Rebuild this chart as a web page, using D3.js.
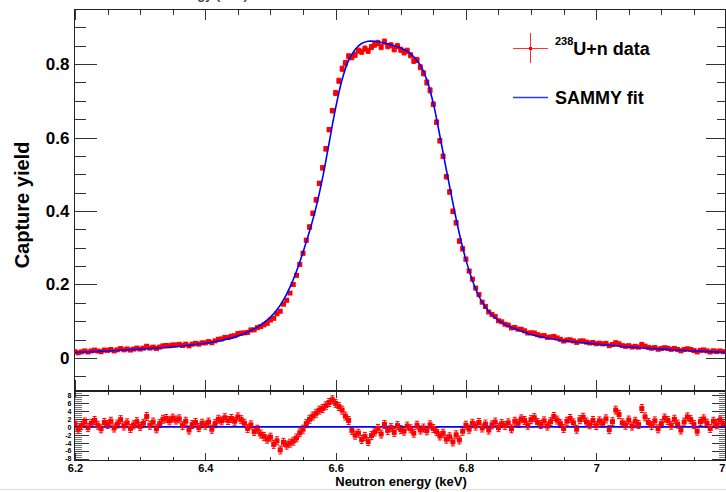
<!DOCTYPE html>
<html>
<head>
<meta charset="utf-8">
<script src="https://cdn.jsdelivr.net/npm/d3@7"></script>
<style>
  body { margin: 0; background: #fff; }
  svg { display: block; font-family: "Liberation Sans", Arial, sans-serif; font-weight: bold; }
</style>
</head>
<body>
<svg id="chart" width="726" height="492"></svg>
<script>
// neutron energy of each data point (keV)
const energies = [
  6.200,6.205,6.210,6.215,6.220,6.225,6.230,6.235,6.240,6.245,
  6.250,6.255,6.260,6.265,6.270,6.275,6.280,6.285,6.290,6.295,
  6.300,6.305,6.310,6.315,6.320,6.325,6.330,6.335,6.340,6.345,
  6.350,6.355,6.360,6.365,6.370,6.375,6.380,6.385,6.390,6.395,
  6.400,6.405,6.410,6.415,6.420,6.425,6.430,6.435,6.440,6.445,
  6.450,6.455,6.460,6.465,6.470,6.475,6.480,6.485,6.490,6.495,
  6.500,6.505,6.510,6.515,6.520,6.525,6.530,6.535,6.540,6.545,
  6.550,6.555,6.560,6.565,6.570,6.575,6.580,6.585,6.590,6.595,
  6.600,6.605,6.610,6.615,6.620,6.625,6.630,6.635,6.640,6.645,
  6.650,6.655,6.660,6.665,6.670,6.675,6.680,6.685,6.690,6.695,
  6.700,6.705,6.710,6.715,6.720,6.725,6.730,6.735,6.740,6.745,
  6.750,6.755,6.760,6.765,6.770,6.775,6.780,6.785,6.790,6.795,
  6.800,6.805,6.810,6.815,6.820,6.825,6.830,6.835,6.840,6.845,
  6.850,6.855,6.860,6.865,6.870,6.875,6.880,6.885,6.890,6.895,
  6.900,6.905,6.910,6.915,6.920,6.925,6.930,6.935,6.940,6.945,
  6.950,6.955,6.960,6.965,6.970,6.975,6.980,6.985,6.990,6.995,
  7.000,7.005,7.010,7.015,7.020,7.025,7.030,7.035,7.040,7.045,
  7.050,7.055,7.060,7.065,7.070,7.075,7.080,7.085,7.090,7.095,
  7.100,7.105,7.110,7.115,7.120,7.125,7.130,7.135,7.140,7.145,
  7.150,7.155,7.160,7.165,7.170,7.175,7.180,7.185,7.190,7.195
];

// measured capture yield
const yields = [
  0.0170,0.0139,0.0166,0.0192,0.0161,0.0192,0.0214,0.0188,0.0170,0.0214,
  0.0205,0.0230,0.0192,0.0222,0.0255,0.0220,0.0245,0.0215,0.0242,0.0268,
  0.0242,0.0268,0.0317,0.0268,0.0294,0.0258,0.0296,0.0330,0.0340,0.0332,
  0.0355,0.0352,0.0370,0.0338,0.0375,0.0330,0.0375,0.0398,0.0375,0.0412,
  0.0410,0.0445,0.0415,0.0465,0.0508,0.0518,0.0558,0.0560,0.0593,0.0605,
  0.0663,0.0675,0.0683,0.0695,0.0763,0.0765,0.0825,0.0855,0.0900,0.0942,
  0.1032,0.1078,0.1205,0.1271,0.1463,0.1571,0.1766,0.2001,0.2248,0.2545,
  0.2850,0.3205,0.3564,0.3937,0.4304,0.4752,0.5176,0.5693,0.6216,0.6733,
  0.7213,0.7547,0.7874,0.8029,0.8212,0.8187,0.8253,0.8368,0.8336,0.8422,
  0.8361,0.8466,0.8529,0.8577,0.8464,0.8612,0.8487,0.8511,0.8402,0.8491,
  0.8391,0.8318,0.8364,0.8240,0.8088,0.8113,0.7914,0.7749,0.7500,0.7285,
  0.6906,0.6418,0.5912,0.5489,0.4934,0.4520,0.3992,0.3680,0.3182,0.2970,
  0.2690,0.2366,0.2146,0.1903,0.1724,0.1518,0.1401,0.1251,0.1185,0.1131,
  0.1014,0.0985,0.0918,0.0895,0.0818,0.0830,0.0783,0.0780,0.0740,0.0680,
  0.0685,0.0680,0.0634,0.0604,0.0610,0.0560,0.0571,0.0586,0.0547,0.0507,
  0.0460,0.0489,0.0494,0.0463,0.0422,0.0461,0.0464,0.0431,0.0408,0.0421,
  0.0386,0.0402,0.0382,0.0396,0.0334,0.0366,0.0416,0.0386,0.0336,0.0316,
  0.0334,0.0298,0.0316,0.0294,0.0368,0.0320,0.0286,0.0264,0.0282,0.0236,
  0.0256,0.0279,0.0262,0.0233,0.0258,0.0229,0.0194,0.0229,0.0250,0.0231,
  0.0202,0.0164,0.0208,0.0218,0.0192,0.0162,0.0194,0.0172,0.0192,0.0170
];

// yield uncertainty, in units of 1e-3
const yieldErr = [
  2.5,2.5,2.5,2.5,2.5,2.5,2.5,2.5,2.5,2.5,
  2.5,2.5,2.5,2.5,2.5,2.5,2.5,2.5,2.5,2.5,
  2.5,2.5,2.5,2.5,2.5,2.5,2.5,2.5,2.5,2.5,
  2.5,2.5,2.5,2.5,2.5,2.5,2.5,2.5,2.5,2.5,
  2.5,2.5,2.5,2.5,2.5,2.5,2.5,2.5,2.5,2.5,
  2.5,2.5,2.5,2.5,2.5,2.5,2.5,2.5,2.5,3,
  3,3,3,3,3,4,4,4,4,5,
  5,5,6,6,6,6,6,6,6,6,
  7,7,7,7,7,7,7,7,7,7,
  7,7,7,7,7,7,7,7,7,7,
  7,7,7,7,7,7,7,7,7,7,
  6,6,6,6,6,6,6,6,6,5,
  5,4,4,4,4,4,3,3,3,3,
  3,2.5,2.5,2.5,2.5,2.5,2.5,2.5,2.5,2.5,
  2.5,2.5,2.5,2.5,2.5,2.5,2.5,2.5,2.5,2.5,
  2.5,2,2,2,2,2,2,2,2,2,
  2,2,2,2,2,2,2,2,2,2,
  2,2,2,2,2,2,2,2,2,2,
  2,2,2,2,2,2,2,2,2,2,
  2,2,2,2,2,2,2,2,2,2
];

// normalised residuals (data - fit) / sigma
const residuals = [
  0.8,-0.6,0.3,1.2,-0.2,0.9,1.6,0.4,-0.5,1.1,
  0.6,1.4,-0.3,0.7,1.8,0.2,1.0,-0.4,0.5,1.3,
  0.1,0.9,2.6,0.4,1.2,-0.5,0.8,1.9,2.1,1.5,
  2.2,1.7,2.0,0.3,1.4,-0.8,0.6,1.1,-0.2,0.9,
  0.4,1.2,-0.6,0.8,1.9,1.5,2.3,1.6,2.1,1.4,
  2.5,1.8,0.9,-0.4,0.5,-1.2,-0.6,-1.8,-2.4,-3.1,
  -2.6,-4.4,-3.5,-5.8,-3.9,-4.6,-4.1,-3.6,-2.8,-1.5,
  -0.6,0.8,1.9,2.7,3.4,4.2,4.6,5.3,6.1,6.8,
  5.9,5.1,4.2,2.7,1.6,-0.9,-2.1,-1.6,-3.2,-2.4,
  -3.7,-2.2,-1.3,-0.4,-1.8,0.6,-0.9,-0.2,-1.4,0.3,
  -0.7,-1.1,0.2,-0.5,-1.6,0.4,-0.8,-0.3,-1.0,0.5,
  -0.4,-1.2,-2.3,-1.6,-3.1,-2.5,-3.8,-2.0,-3.3,-1.1,
  0.4,-0.6,0.9,0.2,1.1,-0.3,0.7,-0.8,0.5,1.2,
  -0.2,0.8,0.3,1.0,-0.5,1.4,0.9,2.0,1.6,0.4,
  1.8,2.3,1.1,0.6,1.5,0.2,1.3,2.6,1.7,0.8,
  -0.4,1.4,2.1,1.0,-0.6,1.8,2.4,1.2,0.5,1.6,
  0.3,1.5,0.9,2.0,-0.7,1.3,4.2,3.1,1.0,0.4,
  1.7,0.2,1.4,0.6,4.6,2.5,1.1,0.3,1.5,-0.5,
  0.8,2.2,1.6,0.4,1.9,0.7,-0.8,1.2,2.5,1.8,
  0.6,-1.1,1.3,2.0,0.9,-0.4,1.4,0.5,1.7,0.8
];

// SAMMY fit curve
const fitEnergies = [
  6.20,6.25,6.30,6.35,6.40,6.42,6.44,6.46,6.48,6.49,
  6.50,6.51,6.52,6.53,6.54,6.55,6.56,6.57,6.58,6.59,
  6.60,6.61,6.62,6.63,6.64,6.65,6.66,6.67,6.68,6.69,
  6.70,6.71,6.72,6.73,6.74,6.75,6.76,6.77,6.78,6.79,
  6.80,6.81,6.82,6.83,6.84,6.85,6.86,6.87,6.88,6.90,
  6.95,7.00,7.05,7.10,7.15,7.20
];
const fitYields = [
  0.015,0.019,0.024,0.030,0.040,0.046,0.054,0.066,0.084,0.096,
  0.111,0.131,0.158,0.193,0.236,0.288,0.345,0.410,0.490,0.585,
  0.680,0.758,0.810,0.840,0.856,0.862,0.862,0.859,0.855,0.850,
  0.844,0.835,0.820,0.797,0.757,0.693,0.605,0.512,0.422,0.338,
  0.267,0.211,0.168,0.138,0.117,0.102,0.091,0.083,0.076,0.064,
  0.047,0.038,0.030,0.024,0.019,0.015
];

const xTicks = [6.2, 6.4, 6.6, 6.8, 7, 7.2];
const yTicks = [0, 0.2, 0.4, 0.6, 0.8];
const resTicks = [-8, -6, -4, -2, 0, 2, 4, 6, 8];

const svg = d3.select("#chart");

const x = d3.scaleLinear().domain([6.2, 7.2]).range([75, 726.5]);
const y = d3.scaleLinear().domain([-0.09, 0.95]).range([391, 9]);
const yr = d3.scaleLinear().domain([-8.33, 9]).range([460, 391]);

const xLeft = 74.5, xRight = 725.5;
const xMinor = d3.range(6.2, 7.2001, 0.05).map(v => +v.toFixed(2));
const yMinor = d3.range(-0.05, 0.951, 0.05).map(v => +v.toFixed(2));
const rMinor = d3.range(-8, 9.01, 0.5);

const points = energies.map((e, i) => ({
  e, v: yields[i], err: yieldErr[i] / 1000, r: residuals[i]
}));

// draw an axis group, strip the domain line, style ticks
function axisGroup(axis, tx, ty) {
  const g = svg.append("g")
    .attr("transform", `translate(${tx},${ty})`)
    .call(axis);
  g.select(".domain").remove();
  g.selectAll(".tick line").attr("stroke", "#333").attr("shape-rendering", "crispEdges");
  return g;
}

// ---------- top panel ----------
// cut-off title at the very top
svg.append("text")
  .attr("x", 182).attr("y", -1)
  .attr("text-anchor", "middle")
  .attr("font-size", 13)
  .attr("fill", "#444")
  .text("Neutron energy  (keV)");

axisGroup(d3.axisLeft(y).tickValues(yMinor).tickSizeInner(-11).tickSizeOuter(0).tickFormat(""), xLeft, 0);
const yAx = axisGroup(d3.axisLeft(y).tickValues(yTicks).tickSizeInner(-22).tickSizeOuter(0)
  .tickPadding(5).tickFormat(d => String(d)), xLeft, 0);
yAx.selectAll("text").attr("font-size", 17).attr("font-family", "Liberation Sans, Arial, sans-serif")
  .attr("font-weight", "bold").attr("fill", "#000");

axisGroup(d3.axisRight(y).tickValues(yMinor).tickSizeInner(-9).tickSizeOuter(0).tickFormat(""), xRight, 0);
axisGroup(d3.axisRight(y).tickValues(yTicks).tickSizeInner(-20).tickSizeOuter(0).tickFormat(""), xRight, 0);

axisGroup(d3.axisTop(x).tickValues(xMinor).tickSizeInner(-5).tickSizeOuter(0).tickFormat(""), 0, 9.5);
axisGroup(d3.axisTop(x).tickValues(xTicks).tickSizeInner(-10).tickSizeOuter(0).tickFormat(""), 0, 9.5);
axisGroup(d3.axisBottom(x).tickValues(xMinor).tickSizeInner(-6).tickSizeOuter(0).tickFormat(""), 0, 390.5);
axisGroup(d3.axisBottom(x).tickValues(xTicks).tickSizeInner(-11).tickSizeOuter(0).tickFormat(""), 0, 390.5);

svg.append("rect")
  .attr("x", xLeft).attr("y", 9.5)
  .attr("width", xRight - xLeft).attr("height", 381)
  .attr("fill", "none").attr("stroke", "#222").attr("stroke-width", 1)
  .attr("shape-rendering", "crispEdges");

svg.append("text")
  .attr("transform", "translate(29,205) rotate(-90)")
  .attr("text-anchor", "middle")
  .attr("font-size", 20)
  .text("Capture yield");

svg.append("clipPath").attr("id", "clipTop")
  .append("rect").attr("x", xLeft).attr("y", 9.5).attr("width", xRight - xLeft).attr("height", 381);

const topG = svg.append("g").attr("clip-path", "url(#clipTop)");

// error bars
const eb = topG.append("g").attr("stroke", "#f00").attr("stroke-width", 1);
eb.selectAll("line.v").data(points).enter().append("line")
  .attr("x1", d => x(d.e)).attr("x2", d => x(d.e))
  .attr("y1", d => y(d.v - d.err)).attr("y2", d => y(d.v + d.err));
eb.selectAll("line.c1").data(points).enter().append("line")
  .attr("x1", d => x(d.e) - 2).attr("x2", d => x(d.e) + 2)
  .attr("y1", d => y(d.v + d.err)).attr("y2", d => y(d.v + d.err));
eb.selectAll("line.c2").data(points).enter().append("line")
  .attr("x1", d => x(d.e) - 2).attr("x2", d => x(d.e) + 2)
  .attr("y1", d => y(d.v - d.err)).attr("y2", d => y(d.v - d.err));

topG.append("g").attr("fill", "#f00")
  .selectAll("rect").data(points).enter().append("rect")
  .attr("x", d => x(d.e) - 2.5).attr("y", d => y(d.v) - 2.5)
  .attr("width", 5).attr("height", 5);

const fitLine = d3.line()
  .x((d, i) => x(fitEnergies[i]))
  .y(d => y(d))
  .curve(d3.curveCatmullRom);

topG.append("path")
  .attr("d", fitLine(fitYields))
  .attr("fill", "none")
  .attr("stroke", "#0000ff")
  .attr("stroke-width", 1.6);

// legend
const lg = svg.append("g");
lg.append("line").attr("x1", 513).attr("x2", 548).attr("y1", 48.5).attr("y2", 48.5)
  .attr("stroke", "#f33").attr("stroke-width", 1);
lg.append("line").attr("x1", 530.5).attr("x2", 530.5).attr("y1", 33).attr("y2", 63)
  .attr("stroke", "#f33").attr("stroke-width", 1);
lg.append("rect").attr("x", 529).attr("y", 47).attr("width", 3).attr("height", 3).attr("fill", "#f00");
const t1 = lg.append("text").attr("x", 555).attr("y", 55).attr("font-size", 18);
t1.append("tspan").attr("font-size", 11).attr("dy", -10).text("238");
t1.append("tspan").attr("dy", 10).text("U+n data");
lg.append("line").attr("x1", 513).attr("x2", 548).attr("y1", 97.5).attr("y2", 97.5)
  .attr("stroke", "#33f").attr("stroke-width", 1.6);
lg.append("text").attr("x", 555).attr("y", 104).attr("font-size", 18).text("SAMMY fit");

// ---------- residual panel ----------
axisGroup(d3.axisLeft(yr).tickValues(rMinor).tickSizeInner(-7).tickSizeOuter(0).tickFormat(""), xLeft, 0)
  .selectAll(".tick line").attr("stroke", "#777");
const rAx = axisGroup(d3.axisLeft(yr).tickValues(resTicks).tickSizeInner(-14).tickSizeOuter(0)
  .tickPadding(3).tickFormat(d => String(d)), xLeft, 0);
rAx.selectAll("text").attr("font-size", 7).attr("font-family", "Liberation Sans, Arial, sans-serif")
  .attr("font-weight", "bold").attr("fill", "#000");

axisGroup(d3.axisRight(yr).tickValues(rMinor).tickSizeInner(-7).tickSizeOuter(0).tickFormat(""), xRight, 0)
  .selectAll(".tick line").attr("stroke", "#777");
axisGroup(d3.axisRight(yr).tickValues(resTicks).tickSizeInner(-14).tickSizeOuter(0).tickFormat(""), xRight, 0);

axisGroup(d3.axisTop(x).tickValues(xMinor).tickSizeInner(-3).tickSizeOuter(0).tickFormat(""), 0, 391.5);
axisGroup(d3.axisTop(x).tickValues(xTicks).tickSizeInner(-6).tickSizeOuter(0).tickFormat(""), 0, 391.5);
axisGroup(d3.axisBottom(x).tickValues(xMinor).tickSizeInner(-4).tickSizeOuter(0).tickFormat(""), 0, 460.5);
const xAx = axisGroup(d3.axisBottom(x).tickValues(xTicks).tickSizeInner(-8).tickSizeOuter(0)
  .tickPadding(4).tickFormat(d => String(d)), 0, 460.5);
xAx.selectAll("text").attr("font-size", 11).attr("font-family", "Liberation Sans, Arial, sans-serif")
  .attr("font-weight", "bold").attr("fill", "#000");

svg.append("rect")
  .attr("x", xLeft).attr("y", 391.5)
  .attr("width", xRight - xLeft).attr("height", 69)
  .attr("fill", "none").attr("stroke", "#222").attr("stroke-width", 1)
  .attr("shape-rendering", "crispEdges");

svg.append("clipPath").attr("id", "clipRes")
  .append("rect").attr("x", xLeft).attr("y", 391.5).attr("width", xRight - xLeft).attr("height", 69);

const resG = svg.append("g").attr("clip-path", "url(#clipRes)");

const rb = resG.append("g").attr("stroke", "#f00").attr("stroke-width", 1);
rb.selectAll("line.v").data(points).enter().append("line")
  .attr("x1", d => x(d.e)).attr("x2", d => x(d.e))
  .attr("y1", d => yr(d.r - 1)).attr("y2", d => yr(d.r + 1));
rb.selectAll("line.c1").data(points).enter().append("line")
  .attr("x1", d => x(d.e) - 2).attr("x2", d => x(d.e) + 2)
  .attr("y1", d => yr(d.r + 1)).attr("y2", d => yr(d.r + 1));
rb.selectAll("line.c2").data(points).enter().append("line")
  .attr("x1", d => x(d.e) - 2).attr("x2", d => x(d.e) + 2)
  .attr("y1", d => yr(d.r - 1)).attr("y2", d => yr(d.r - 1));

resG.append("line")
  .attr("x1", xLeft).attr("x2", xRight)
  .attr("y1", yr(0)).attr("y2", yr(0))
  .attr("stroke", "#0000ff").attr("stroke-width", 1.6);

resG.append("g").attr("fill", "#f00")
  .selectAll("rect").data(points).enter().append("rect")
  .attr("x", d => x(d.e) - 2.5).attr("y", d => yr(d.r) - 2.5)
  .attr("width", 5).attr("height", 5);

svg.append("text")
  .attr("x", 401).attr("y", 486)
  .attr("text-anchor", "middle")
  .attr("font-size", 13)
  .text("Neutron energy  (keV)");

svg.append("line")
  .attr("x1", 0).attr("x2", 726).attr("y1", 489.5).attr("y2", 489.5)
  .attr("stroke", "#ddd");
</script>
</body>
</html>
